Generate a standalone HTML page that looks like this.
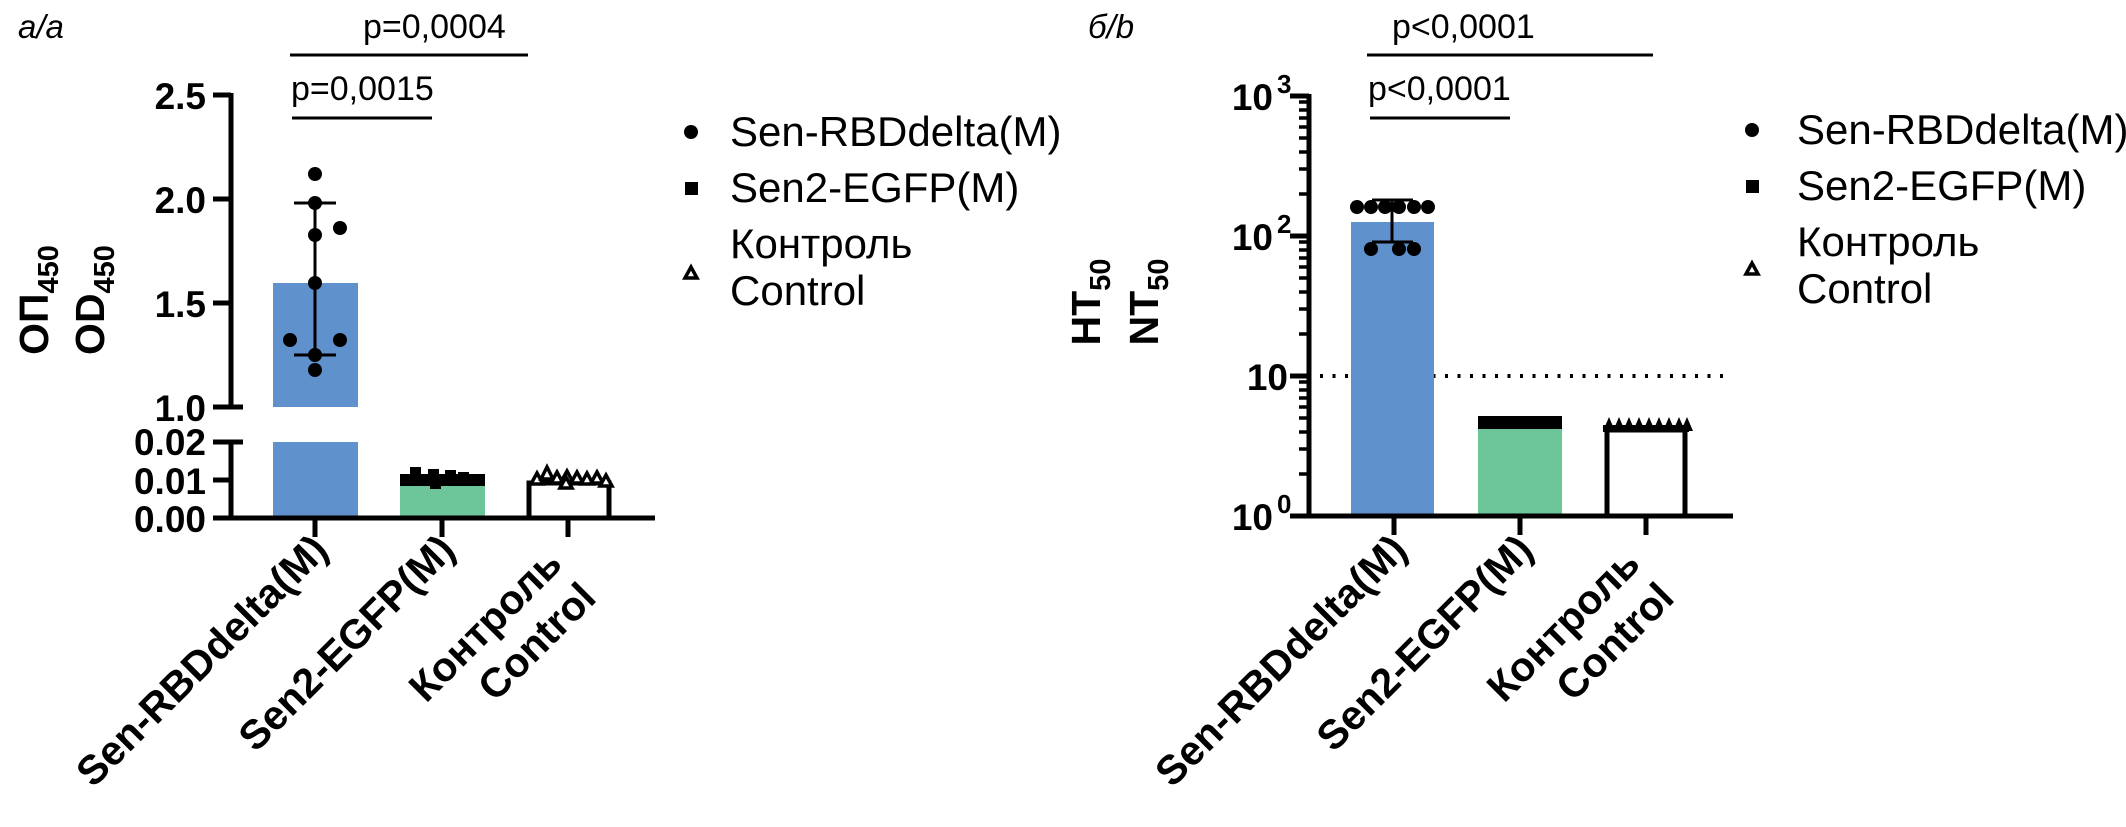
<!DOCTYPE html>
<html><head><meta charset="utf-8"><style>
html,body{margin:0;padding:0;background:#fff}
svg{display:block}
text{font-family:"Liberation Sans",Arial,sans-serif;fill:#000}
.b{font-weight:bold}
</style></head><body>
<svg width="2126" height="827" viewBox="0 0 2126 827" xmlns="http://www.w3.org/2000/svg">
<!-- ================= LEFT PANEL ================= -->
<text x="18" y="38" font-size="33" font-style="italic">a/a</text>
<text x="363" y="38" font-size="34">p=0,0004</text>
<line x1="290" y1="55" x2="528" y2="55" stroke="#000" stroke-width="3"/>
<text x="291" y="100" font-size="34">p=0,0015</text>
<line x1="292" y1="118" x2="432" y2="118" stroke="#000" stroke-width="3"/>
<text class="b" font-size="41" transform="translate(48,300) rotate(-90)" text-anchor="middle">ОП<tspan font-size="29" dy="10">450</tspan></text>
<text class="b" font-size="41" transform="translate(104,300) rotate(-90)" text-anchor="middle">OD<tspan font-size="29" dy="10">450</tspan></text>
<rect x="273" y="283" width="85" height="124" fill="#5f91cc"/>
<rect x="273" y="442" width="85" height="76" fill="#5f91cc"/>
<rect x="400" y="484" width="85" height="34" fill="#6dc59a"/>
<rect x="529" y="483" width="80" height="35" fill="#fff" stroke="#000" stroke-width="5"/>
<g stroke="#000" stroke-width="5" fill="none">
<line x1="231" y1="93" x2="231" y2="407"/>
<line x1="231" y1="442" x2="231" y2="518"/>
<line x1="213" y1="95" x2="231" y2="95"/>
<line x1="213" y1="199" x2="231" y2="199"/>
<line x1="213" y1="303" x2="231" y2="303"/>
<line x1="213" y1="407" x2="243" y2="407"/>
<line x1="213" y1="442" x2="243" y2="442"/>
<line x1="213" y1="480" x2="231" y2="480"/>
<line x1="213" y1="518" x2="655" y2="518"/>
<line x1="315" y1="518" x2="315" y2="537"/>
<line x1="442" y1="518" x2="442" y2="537"/>
<line x1="568" y1="518" x2="568" y2="537"/>
</g>
<g class="b" font-size="37" text-anchor="end">
<text x="206" y="109" class="b">2.5</text>
<text x="206" y="213" class="b">2.0</text>
<text x="206" y="317" class="b">1.5</text>
<text x="206" y="421" class="b">1.0</text>
<text x="206" y="455" class="b">0.02</text>
<text x="206" y="494" class="b">0.01</text>
<text x="206" y="532" class="b">0.00</text>
</g>
<g stroke="#000" stroke-width="3">
<line x1="315" y1="203" x2="315" y2="355"/>
<line x1="294" y1="203" x2="336" y2="203"/>
<line x1="294" y1="355" x2="336" y2="355"/>
</g>
<g fill="#000">
<circle cx="315" cy="174" r="7"/><circle cx="315" cy="203" r="7"/><circle cx="340" cy="228" r="7"/>
<circle cx="315" cy="235" r="7"/><circle cx="315" cy="283" r="7"/><circle cx="290" cy="340" r="7"/>
<circle cx="340" cy="340" r="7"/><circle cx="315" cy="355" r="7"/><circle cx="315" cy="370" r="7"/>
<rect x="400" y="474" width="85" height="12"/>
<rect x="410" y="467" width="11" height="11"/><rect x="428" y="469" width="11" height="11"/>
<rect x="445" y="470" width="11" height="11"/><rect x="430" y="480" width="11" height="9"/>
<rect x="458" y="472" width="11" height="11"/>
</g>
<g fill="#fff" stroke="#000" stroke-width="3.5">
<path d="M531,484 l6,-11 l6,11z"/><path d="M541,479 l6,-12 l6,12z"/><path d="M551,483 l6,-11 l6,11z"/>
<path d="M561,482 l6,-11 l6,11z"/><path d="M571,483 l6,-11 l6,11z"/><path d="M581,484 l6,-11 l6,11z"/>
<path d="M591,483 l6,-11 l6,11z"/><path d="M600,486 l6,-11 l6,11z"/><path d="M560,488 l6,-11 l6,11z"/>
</g>
<g class="b" font-size="41" text-anchor="end">
<text class="b" transform="translate(330,552) rotate(-45)">Sen-RBDdelta(M)</text>
<text class="b" transform="translate(457,552) rotate(-45)">Sen2-EGFP(M)</text>
<text class="b" transform="translate(564,566) rotate(-45)">Контроль</text>
<text class="b" transform="translate(598,600) rotate(-45)">Control</text>
</g>
<circle cx="691" cy="132" r="7" fill="#000"/>
<rect x="685" y="182" width="13" height="13" fill="#000"/>
<path d="M685,278 l6,-11 l6,11z" fill="#fff" stroke="#000" stroke-width="3.5"/>
<g font-size="42">
<text x="730" y="146">Sen-RBDdelta(M)</text>
<text x="730" y="202">Sen2-EGFP(M)</text>
<text x="730" y="258">Контроль</text>
<text x="730" y="305">Control</text>
</g>

<!-- ================= RIGHT PANEL ================= -->
<text x="1088" y="38" font-size="33" font-style="italic">б/b</text>
<text x="1392" y="38" font-size="34">p&lt;0,0001</text>
<line x1="1367" y1="55" x2="1653" y2="55" stroke="#000" stroke-width="3"/>
<text x="1368" y="100" font-size="34">p&lt;0,0001</text>
<line x1="1370" y1="118" x2="1510" y2="118" stroke="#000" stroke-width="3"/>
<text class="b" font-size="41" transform="translate(1100,302) rotate(-90)" text-anchor="middle">HT<tspan font-size="29" dy="10">50</tspan></text>
<text class="b" font-size="41" transform="translate(1158,302) rotate(-90)" text-anchor="middle">NT<tspan font-size="29" dy="10">50</tspan></text>
<line x1="1320" y1="376" x2="1728" y2="376" stroke="#000" stroke-width="4" stroke-dasharray="3,9.5"/>
<rect x="1351" y="222" width="83" height="294" fill="#5f91cc"/>
<rect x="1478" y="429" width="84" height="87" fill="#6dc59a"/>
<rect x="1478" y="416" width="84" height="13" fill="#000"/>
<rect x="1607" y="430" width="78" height="86" fill="#fff" stroke="#000" stroke-width="5"/>
<g fill="#000">
<path d="M1603,431 l6,-14 l6,14z M1613,431 l6,-14 l6,14z M1623,431 l6,-14 l6,14z M1633,431 l6,-14 l6,14z M1643,431 l6,-14 l6,14z M1653,431 l6,-14 l6,14z M1663,431 l6,-14 l6,14z M1673,431 l6,-14 l6,14z M1681,431 l6,-14 l6,14z"/>
<rect x="1603" y="425" width="86" height="7"/>
</g>
<g stroke="#000" stroke-width="5" fill="none">
<line x1="1309" y1="94" x2="1309" y2="518"/>
<line x1="1290" y1="516" x2="1733" y2="516"/>
<line x1="1290" y1="96" x2="1309" y2="96"/>
<line x1="1290" y1="236" x2="1309" y2="236"/>
<line x1="1290" y1="376" x2="1309" y2="376"/>
<line x1="1394" y1="516" x2="1394" y2="535"/>
<line x1="1520" y1="516" x2="1520" y2="535"/>
<line x1="1646" y1="516" x2="1646" y2="535"/>
</g>
<g stroke="#000" stroke-width="3.5">
<path d="M1299,474 h10 M1299,449 h10 M1299,432 h10 M1299,418 h10 M1299,407 h10 M1299,398 h10 M1299,390 h10 M1299,382 h10
M1299,334 h10 M1299,309 h10 M1299,292 h10 M1299,278 h10 M1299,267 h10 M1299,258 h10 M1299,250 h10 M1299,242 h10
M1299,194 h10 M1299,169 h10 M1299,152 h10 M1299,138 h10 M1299,127 h10 M1299,118 h10 M1299,110 h10 M1299,102 h10"/>
</g>
<g class="b" font-size="37" text-anchor="end">
<text class="b" x="1273" y="110">10</text>
<text class="b" x="1273" y="250">10</text>
<text class="b" x="1288" y="390">10</text>
<text class="b" x="1273" y="530">10</text>
</g>
<g class="b" font-size="26">
<text class="b" x="1277" y="93">3</text>
<text class="b" x="1277" y="233">2</text>
<text class="b" x="1277" y="513">0</text>
</g>
<g stroke="#000" stroke-width="3">
<line x1="1392" y1="200" x2="1392" y2="242"/>
<line x1="1372" y1="200" x2="1413" y2="200"/>
<line x1="1372" y1="242" x2="1413" y2="242"/>
</g>
<g fill="#000">
<circle cx="1357" cy="207" r="7"/><circle cx="1371" cy="207" r="7"/><circle cx="1385" cy="207" r="7"/>
<circle cx="1399" cy="207" r="7"/><circle cx="1414" cy="207" r="7"/><circle cx="1428" cy="207" r="7"/>
<circle cx="1371" cy="249" r="7"/><circle cx="1399" cy="249" r="7"/><circle cx="1414" cy="249" r="7"/>
</g>
<g class="b" font-size="41" text-anchor="end">
<text class="b" transform="translate(1409,552) rotate(-45)">Sen-RBDdelta(M)</text>
<text class="b" transform="translate(1535,552) rotate(-45)">Sen2-EGFP(M)</text>
<text class="b" transform="translate(1642,566) rotate(-45)">Контроль</text>
<text class="b" transform="translate(1676,600) rotate(-45)">Control</text>
</g>
<circle cx="1752" cy="130" r="7" fill="#000"/>
<rect x="1746" y="180" width="13" height="13" fill="#000"/>
<path d="M1746,274 l6,-11 l6,11z" fill="#fff" stroke="#000" stroke-width="3.5"/>
<g font-size="42">
<text x="1797" y="144">Sen-RBDdelta(M)</text>
<text x="1797" y="200">Sen2-EGFP(M)</text>
<text x="1797" y="256">Контроль</text>
<text x="1797" y="303">Control</text>
</g>
</svg>
</body></html>
